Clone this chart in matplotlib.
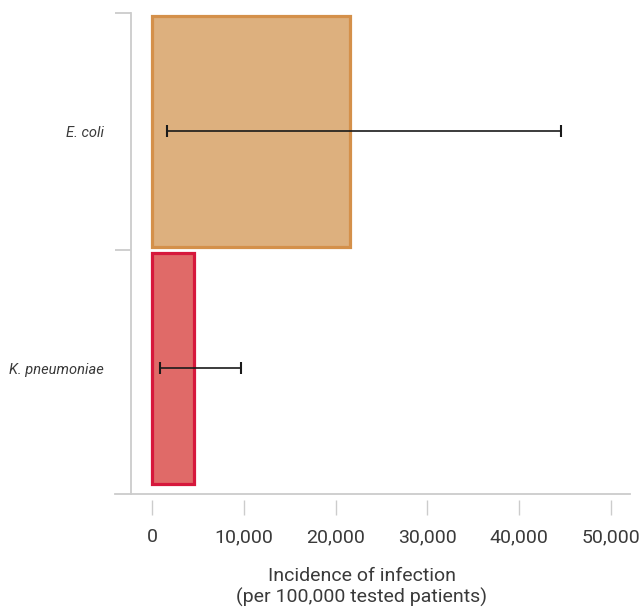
import matplotlib
matplotlib.use("Agg")
import matplotlib.pyplot as plt
import numpy as np

categories = ["E. coli", "K. pneumoniae"]
values = [21600, 4600]
ci_low = [1600, 900]
ci_high = [44600, 9700]
fill_colors = ["#DDB07E", "#E06A68"]
edge_colors = ["#D4904A", "#D6183C"]
xticks = [0, 10000, 20000, 30000, 40000, 50000]
xlabel = "Incidence of infection\n(per 100,000 tested patients)"

plt.rcParams['font.family'] = ['Roboto', 'DejaVu Sans']

W, H = 642, 615
fig = plt.figure(figsize=(W / 100, H / 100), dpi=100)
ax = fig.add_axes([115 / W, 1 - 494 / H, (630 - 115) / W, (494 - 13) / H])

ypos = np.arange(len(categories))
ax.barh(ypos, values, height=0.975, color=fill_colors, edgecolor=edge_colors,
        linewidth=2.3, zorder=2)
xerr = [np.array(values) - np.array(ci_low), np.array(ci_high) - np.array(values)]
ax.errorbar(values, ypos, xerr=xerr, fmt='none', ecolor='#1a1a1a',
            elinewidth=1.2, capsize=4, capthick=1.5, zorder=3)

ax.set_xlim(-4031, 52070)
ax.set_ylim(1.53, -0.5)

grey = '#cccccc'
for s in ['top', 'right']:
    ax.spines[s].set_visible(False)
ax.spines['left'].set_position(('data', -2288))
ax.spines['left'].set_color(grey)
ax.spines['left'].set_linewidth(1.3)
ax.spines['bottom'].set_position(('outward', 4))
ax.spines['bottom'].set_color('none')
ax.plot([0, 1], [0, 0], transform=ax.transAxes, color=grey, lw=1.3,
        clip_on=False, zorder=1)

ax.set_xticks(xticks)
ax.set_xticklabels([f"{v:,}" for v in xticks])
ax.tick_params(axis='x', direction='out', length=10.8, width=1.0, color=grey,
               labelsize=14, labelcolor='#3a3a3a', pad=10)

ax.set_yticks(ypos)
ax.set_yticklabels(categories, fontstyle='italic')
ax.set_yticks([-0.5, 0.5], minor=True)
ax.tick_params(axis='y', which='major', length=0, labelsize=10.5,
               labelcolor='#3a3a3a', pad=19.5)
ax.tick_params(axis='y', which='minor', length=11.5, width=1.3, color=grey,
               direction='out')

ax.set_xlabel(xlabel, fontsize=14, color='#3a3a3a', linespacing=1.2)
ax.xaxis.set_label_coords(362 / W, 1 - 567 / H, transform=fig.transFigure)

fig.savefig("out.png", dpi=100)
